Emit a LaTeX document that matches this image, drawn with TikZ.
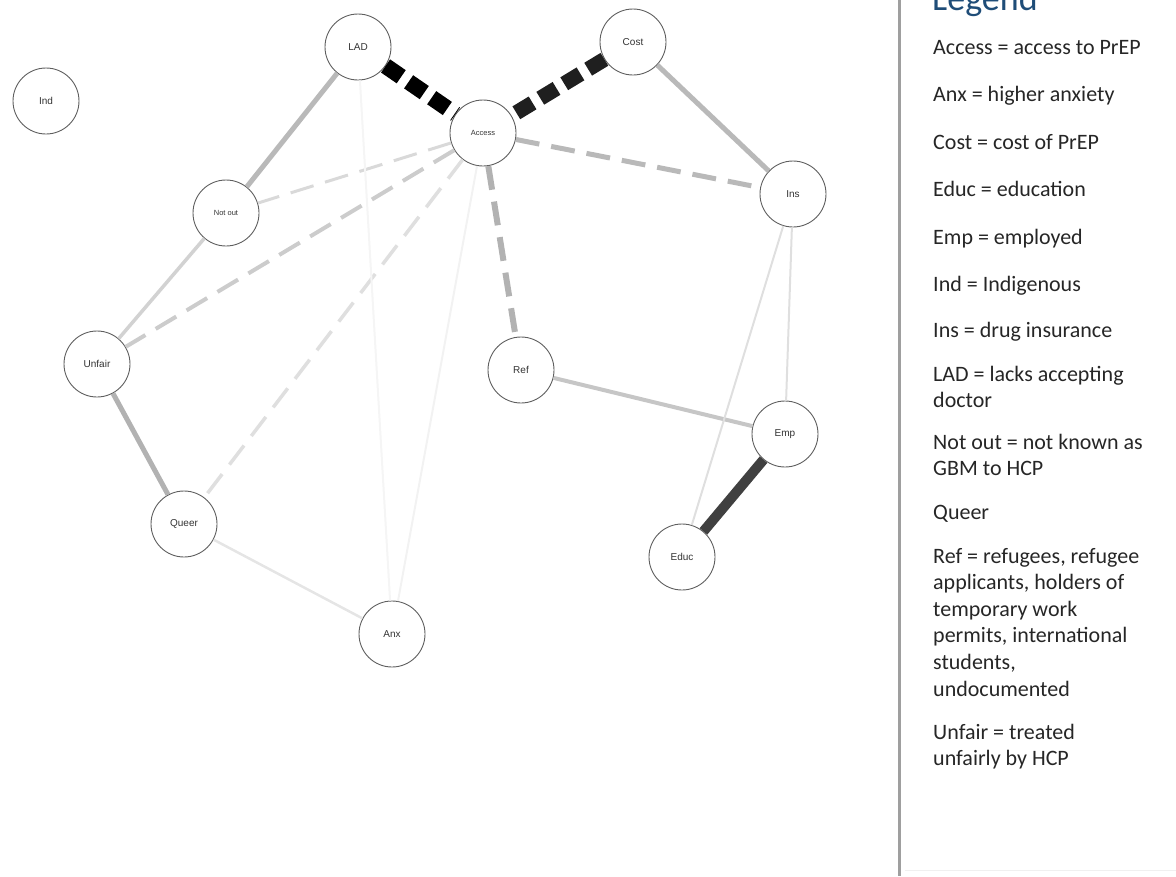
\documentclass[tikz,border=0pt]{standalone}
\usepackage{fontspec}
\setmainfont{Carlito}
\newfontfamily\varfont{Liberation Sans}
\usepackage{tikz}

\definecolor{legendblue}{RGB}{31,77,120}
\definecolor{varline}{RGB}{95,95,95}

\tikzset{
  var/.style={circle,draw=varline,line width=0.9pt,fill=white,minimum size=66pt,
    inner sep=0pt,text=black!80,font=\varfont\fontsize{10}{12}\selectfont},
  smallvar/.style={var,font=\varfont\fontsize{7.5}{9}\selectfont},
  lightdash/.style={dash pattern=on 24pt off 12pt},
  heavydash/.style={dash pattern=on 19pt off 9pt},
  legtext/.style={anchor=base west,inner sep=0pt,text=black!85,
    font=\fontsize{22}{26.6}\selectfont}
}
% legend entries over several lines, aligned on the first baseline
\newcommand{\leglines}[1]{\begin{tabular}[t]{@{}l@{}}#1\end{tabular}}

\begin{document}
\begin{tikzpicture}[x=1pt,y=-1pt]
  \useasboundingbox (0,0) rectangle (1176,876);
  % variables
  \node[var]      (ind)    at (46,101)  {Ind};
  \node[var]      (lad)    at (358,47)  {LAD};
  \node[var]      (cost)   at (633,42)  {Cost};
  \node[smallvar] (access) at (483,133) {Access};
  \node[smallvar] (notout) at (226,213) {Not out};
  \node[var]      (ins)    at (793,194) {Ins};
  \node[var]      (unfair) at (97,364)  {Unfair};
  \node[var]      (ref)    at (521,370) {Ref};
  \node[var]      (emp)    at (785,434) {Emp};
  \node[var]      (queer)  at (184,524) {Queer};
  \node[var]      (educ)   at (682,557) {Educ};
  \node[var]      (anx)    at (392,634) {Anx};

  % edges
  \draw[black,line width=16pt,heavydash] (lad) -- (access);
  \draw[black!88,line width=15pt,heavydash] (cost) -- (access);
  \draw[gray!55,line width=5pt,lightdash] (access) -- (ins);
  \draw[gray!60,line width=6pt,lightdash] (access) -- (ref);
  \draw[gray!30,line width=3pt,lightdash] (access) -- (notout);
  \draw[gray!40,line width=4pt,lightdash] (access) -- (unfair);
  \draw[gray!25,line width=3.5pt,lightdash] (access) -- (queer);
  \draw[gray!10,line width=2pt] (access) -- (anx);
  \draw[gray!8,line width=2pt] (lad) -- (anx);
  \draw[gray!55,line width=5pt] (lad) -- (notout);
  \draw[gray!35,line width=3.5pt] (notout) -- (unfair);
  \draw[gray!60,line width=5pt] (unfair) -- (queer);
  \draw[gray!20,line width=2.5pt] (queer) -- (anx);
  \draw[gray!55,line width=5pt] (cost) -- (ins);
  \draw[gray!45,line width=4pt] (ref) -- (emp);
  \draw[gray!25,line width=2pt] (ins) -- (emp);
  \draw[gray!25,line width=2pt] (ins) -- (educ);
  \draw[black!75,line width=10pt] (emp) -- (educ);

  % legend
  \draw[gray!75,line width=3pt] (899,0) -- (899,876);
  \draw[gray!12,line width=1pt] (905,870) -- (1176,870);
  \node[anchor=base west,inner sep=0pt,text=legendblue,font=\fontsize{36}{42}\selectfont]
    (legtitle) at (932,10) {Legend};
  \node[legtext] (l1)  at (933,54)  {Access = access to PrEP};
  \node[legtext] (l2)  at (933,101) {Anx = higher anxiety};
  \node[legtext] (l3)  at (933,149) {Cost = cost of PrEP};
  \node[legtext] (l4)  at (933,196) {Educ = education};
  \node[legtext] (l5)  at (933,244) {Emp = employed};
  \node[legtext] (l6)  at (933,291) {Ind = Indigenous};
  \node[legtext] (l7)  at (933,337) {Ins = drug insurance};
  \node[legtext] (l8)  at (933,381) {\leglines{LAD = lacks accepting\\doctor}};
  \node[legtext] (l9)  at (933,449) {\leglines{Not out = not known as\\GBM to HCP}};
  \node[legtext] (l10) at (933,519) {Queer};
  \node[legtext] (l11) at (933,563) {\leglines{Ref = refugees, refugee\\applicants, holders of\\temporary work\\permits, international\\students,\\undocumented}};
  \node[legtext] (l12) at (933,739) {\leglines{Unfair = treated\\unfairly by HCP}};
\end{tikzpicture}
\end{document}
